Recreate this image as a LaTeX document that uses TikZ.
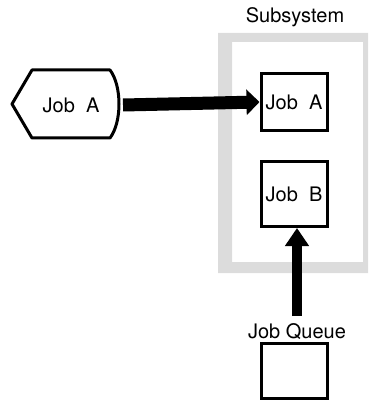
\documentclass[tikz,border=0pt]{standalone}
\usepackage{fontspec}
\setmainfont{TeX Gyre Heros}
\usetikzlibrary{arrows.meta}

\definecolor{framegrey}{HTML}{DCDCDC}

\begin{document}
\begin{tikzpicture}[x=1pt,y=-1pt,font=\fontsize{20}{24}\selectfont]
\useasboundingbox (0,0) rectangle (370,406);

%Subsystem frame
\fill[framegrey, even odd rule] (218,33) rectangle (368,273) (232,42) rectangle (363,262);
\node (sub) at (295,17) {Subsystem};

\begin{scope}[every node/.style={draw,line width=3pt,minimum width=66pt,inner sep=1pt}]
	%Subsystem
	\node[minimum height=57pt] (JA) at (294,102) {Job\ \ A};
	\node[minimum height=65pt] (JB) at (294,194) {Job\ \ B};
	
	%Job queue
	\node[minimum height=55pt] (JQ) at (294.5,371) {};
\end{scope}

\begin{scope}[every node/.style={inner sep=0pt}]
	%Display
	\node (disp) at (71,105) {Job\ \ A};
	\coordinate (disp_r) at (123,105);
	
	%Job queue
	\node (qlabel) at (297,332) {Job Queue};
	\coordinate (q_top) at (297,316);
\end{scope}

%Display outline
\draw[line width=3pt, line join=round] (32,70) -- (110,70) .. controls (122,86) and (122,122) .. (110,138) -- (32,138) -- (12,104) -- cycle;

\begin{scope}[style={draw}]
	%Job A in
	\path [-{Triangle[length=13pt,width=25pt]}, line width=13pt] (disp_r) edge node {} (JA.west);
	
	%Job B in
	\path [-{Triangle[length=18pt,width=23pt]}, line width=10pt] (q_top) edge node {} (q_top |- JB.south);
\end{scope}
\end{tikzpicture}
\end{document}
